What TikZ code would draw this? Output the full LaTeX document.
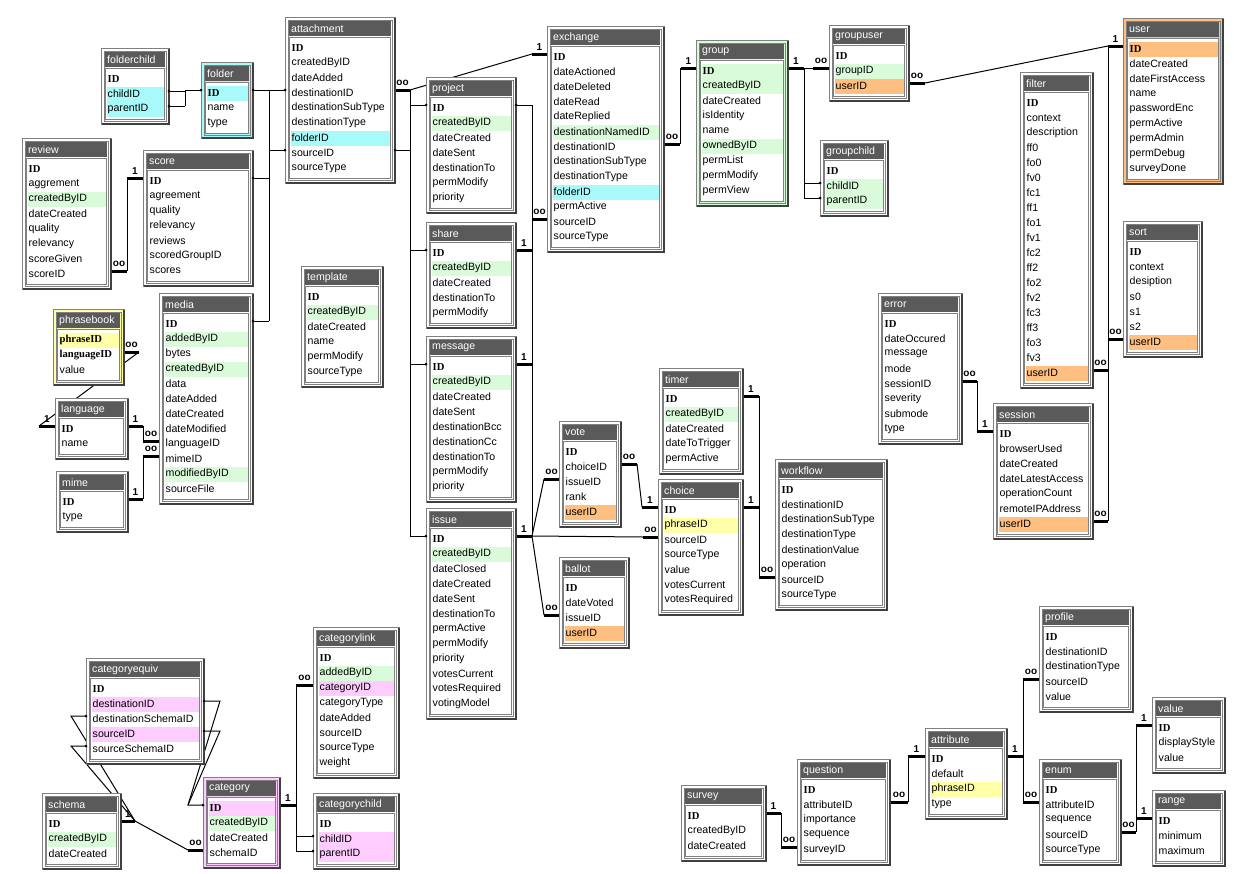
\documentclass[tikz,border=0pt]{standalone}
\usepackage{fontspec}
\setmainfont{Liberation Sans}
\newfontfamily\idfont{Liberation Serif}
\usetikzlibrary{backgrounds}
\definecolor{colw}{HTML}{FFFFFF}
\definecolor{colg}{HTML}{D9FBD9}
\definecolor{colc}{HTML}{A8FAFA}
\definecolor{colo}{HTML}{FFBF80}
\definecolor{coly}{HTML}{FFFFA8}
\definecolor{colp}{HTML}{FFCCFF}
\definecolor{titlegray}{HTML}{5A5A5A}
\definecolor{framegray}{HTML}{808080}
\definecolor{shadowgray}{HTML}{404040}
\tikzset{
 fldn/.style={anchor=west, inner sep=0pt, font=\fontsize{10.6}{12}\selectfont},
 fldb/.style={anchor=west, inner sep=0pt, font=\idfont\bfseries\fontsize{10.6}{12}\selectfont},
 ttl/.style={anchor=west, inner sep=0pt, text=white, font=\fontsize{10.6}{12}\selectfont},
 thinline/.style={line width=1pt, black},
 stubline/.style={line width=3pt, black},
 lbl/.style={anchor=south, inner sep=0pt, yshift=2.5pt, font=\bfseries\fontsize{10}{10}\selectfont},
 tblframe/.style={draw=framegray, line width=1pt, anchor=north west, inner sep=0pt, outer sep=0pt},
}
\newcommand{\ertable}[7]{%
 \pgfmathsetmacro\erH{31+15*#5}%
 \pgfmathsetmacro\erW{#4-#2}%
 \pgfmathsetmacro\erB{#3+\erH}%
 \node[tblframe, fill=#6, minimum width=\erW pt, minimum height=\erH pt] (#1) at (#2,#3) {};
 \draw[line width=1.5pt, shadowgray] (#2+1,\erB) -- (#4,\erB) -- (#4,#3+1);
 \draw[framegray, line width=0.8pt] (#2+3,#3+3) rectangle (#4-3,\erB-3);
 \fill[titlegray] (#2+4,#3+4) rectangle (#4-4,#3+19);
 \node[ttl] (#1-title) at (#2+6,#3+11.5) {#1};
 \draw[fill=white, draw=framegray, line width=0.8pt] (#2+4.5,#3+20.5) rectangle (#4-4.5,\erB-4.5);
 \foreach \erf/\erc/\erw [count=\eri from 0] in {#7} {
   \pgfmathsetmacro\yr{#3+23.5+15*\eri}
   \fill[col\erc] (#2+5.5,\yr) rectangle (#4-5.5,\yr+15);
   \node[fld\erw] (#1-r\eri) at (#2+6.5,\yr+7.5) {\erf};
   \coordinate (#1-\erf-L) at (#2,\yr+4.5);
   \coordinate (#1-\erf-R) at (#4,\yr+4.5);
 }
}
\newcommand{\erstub}[4]{\draw[stubline] (#1) -- node[lbl]{#3} ++(#2,0) coordinate (#4);}
\newcommand{\erdot}[1]{\fill (#1) circle (1.5pt);}
\begin{document}
\begin{tikzpicture}[x=1pt,y=-1pt]
\useasboundingbox (0,0) rectangle (1234,873);
\ertable{folderchild}{101}{48}{169}{3}{white}{ID/w/b, childID/c/n, parentID/c/n}
\ertable{folder}{201}{62}{253}{3}{colc}{ID/c/b, name/w/n, type/w/n}
\ertable{attachment}{285}{17}{395}{9}{white}{ID/w/b, createdByID/w/n, dateAdded/w/n, destinationID/w/n, destinationSubType/w/n, destinationType/w/n, folderID/c/n, sourceID/w/n, sourceType/w/n}
\ertable{review}{22}{138}{111}{8}{white}{ID/w/b, aggrement/w/n, createdByID/g/n, dateCreated/w/n, quality/w/n, relevancy/w/n, scoreGiven/w/n, scoreID/w/n}
\ertable{score}{143}{150}{253}{7}{white}{ID/w/b, agreement/w/n, quality/w/n, relevancy/w/n, reviews/w/n, scoredGroupID/w/n, scores/w/n}
\ertable{template}{301}{266}{383}{6}{white}{ID/w/b, createdByID/g/n, dateCreated/w/n, name/w/n, permModify/w/n, sourceType/w/n}
\ertable{media}{159}{293}{253}{12}{white}{ID/w/b, addedByID/g/n, bytes/w/n, createdByID/g/n, data/w/n, dateAdded/w/n, dateCreated/w/n, dateModified/w/n, languageID/w/n, mimeID/w/n, modifiedByID/g/n, sourceFile/w/n}
\ertable{phrasebook}{53}{309}{124}{3}{coly}{phraseID/y/b, languageID/w/b, value/w/n}
\ertable{language}{55}{398}{128}{2}{white}{ID/w/b, name/w/n}
\ertable{mime}{56}{471}{128}{2}{white}{ID/w/b, type/w/n}
\ertable{project}{426}{77}{516}{7}{white}{ID/w/b, createdByID/g/n, dateCreated/w/n, dateSent/w/n, destinationTo/w/n, permModify/w/n, priority/w/n}
\ertable{share}{426}{222}{516}{5}{white}{ID/w/b, createdByID/g/n, dateCreated/w/n, destinationTo/w/n, permModify/w/n}
\ertable{message}{426}{336}{516}{9}{white}{ID/w/b, createdByID/g/n, dateCreated/w/n, dateSent/w/n, destinationBcc/w/n, destinationCc/w/n, destinationTo/w/n, permModify/w/n, priority/w/n}
\ertable{issue}{426}{508}{516}{12}{white}{ID/w/b, createdByID/g/n, dateClosed/w/n, dateCreated/w/n, dateSent/w/n, destinationTo/w/n, permActive/w/n, permModify/w/n, priority/w/n, votesCurrent/w/n, votesRequired/w/n, votingModel/w/n}
\ertable{exchange}{547}{26}{664}{13}{white}{ID/w/b, dateActioned/w/n, dateDeleted/w/n, dateRead/w/n, dateReplied/w/n, destinationNamedID/g/n, destinationID/w/n, destinationSubType/w/n, destinationType/w/n, folderID/c/n, permActive/w/n, sourceID/w/n, sourceType/w/n}
\ertable{group}{696}{40}{788}{9}{colg}{ID/g/b, createdByID/g/n, dateCreated/w/n, isIdentity/w/n, name/w/n, ownedByID/g/n, permList/w/n, permModify/w/n, permView/w/n}
\ertable{groupuser}{829}{25}{909}{3}{white}{ID/w/b, groupID/g/n, userID/o/n}
\ertable{groupchild}{820}{140}{888}{3}{white}{ID/w/b, childID/g/n, parentID/g/n}
\ertable{user}{1123}{18}{1223}{9}{colo}{ID/o/b, dateCreated/w/n, dateFirstAccess/w/n, name/w/n, passwordEnc/w/n, permActive/w/n, permAdmin/w/n, permDebug/w/n, surveyDone/w/n}
\ertable{filter}{1020}{72}{1093}{19}{white}{ID/w/b, context/w/n, description/w/n, ff0/w/n, fo0/w/n, fv0/w/n, fc1/w/n, ff1/w/n, fo1/w/n, fv1/w/n, fc2/w/n, ff2/w/n, fo2/w/n, fv2/w/n, fc3/w/n, ff3/w/n, fo3/w/n, fv3/w/n, userID/o/n}
\ertable{sort}{1123}{221}{1202}{7}{white}{ID/w/b, context/w/n, desiption/w/n, s0/w/n, s1/w/n, s2/w/n, userID/o/n}
\ertable{error}{878}{293}{962}{8}{white}{ID/w/b, dateOccured/w/n, message/w/n, mode/w/n, sessionID/w/n, severity/w/n, submode/w/n, type/w/n}
\ertable{session}{993}{403}{1093}{7}{white}{ID/w/b, browserUsed/w/n, dateCreated/w/n, dateLatestAccess/w/n, operationCount/w/n, remoteIPAddress/w/n, userID/o/n}
\ertable{vote}{559}{421}{621}{5}{white}{ID/w/b, choiceID/w/n, issueID/w/n, rank/w/n, userID/o/n}
\ertable{timer}{659}{368}{743}{5}{white}{ID/w/b, createdByID/g/n, dateCreated/w/n, dateToTrigger/w/n, permActive/w/n}
\ertable{choice}{658}{479}{743}{7}{white}{ID/w/b, phraseID/y/n, sourceID/w/n, sourceType/w/n, value/w/n, votesCurrent/w/n, votesRequired/w/n}
\ertable{workflow}{775}{459}{887}{8}{white}{ID/w/b, destinationID/w/n, destinationSubType/w/n, destinationType/w/n, destinationValue/w/n, operation/w/n, sourceID/w/n, sourceType/w/n}
\ertable{ballot}{559}{557}{629}{4}{white}{ID/w/b, dateVoted/w/n, issueID/w/n, userID/o/n}
\ertable{categoryequiv}{86}{658}{204}{5}{white}{ID/w/b, destinationID/p/n, destinationSchemaID/w/n, sourceID/p/n, sourceSchemaID/w/n}
\ertable{categorylink}{313}{627}{399}{8}{white}{ID/w/b, addedByID/g/n, categoryID/p/n, categoryType/w/n, dateAdded/w/n, sourceID/w/n, sourceType/w/n, weight/w/n}
\ertable{category}{203}{777}{280}{4}{colp}{ID/p/b, createdByID/g/n, dateCreated/w/n, schemaID/w/n}
\ertable{schema}{42}{793}{121}{3}{white}{ID/w/b, createdByID/g/n, dateCreated/w/n}
\ertable{categorychild}{313}{793}{399}{3}{white}{ID/w/b, childID/p/n, parentID/p/n}
\ertable{survey}{681}{785}{766}{3}{white}{ID/w/b, createdByID/w/n, dateCreated/w/n}
\ertable{question}{797}{759}{890}{5}{white}{ID/w/b, attributeID/w/n, importance/w/n, sequence/w/n, surveyID/w/n}
\ertable{profile}{1039}{606}{1133}{5}{white}{ID/w/b, destinationID/w/n, destinationType/w/n, sourceID/w/n, value/w/n}
\ertable{value}{1152}{697}{1225}{3}{white}{ID/w/b, displayStyle/w/n, value/w/n}
\ertable{attribute}{925}{728}{1007}{4}{white}{ID/w/b, default/w/n, phraseID/y/n, type/w/n}
\ertable{enum}{1039}{759}{1121}{5}{white}{ID/w/b, attributeID/w/n, sequence/w/n, sourceID/w/n, sourceType/w/n}
\ertable{range}{1152}{790}{1225}{3}{white}{ID/w/b, minimum/w/n, maximum/w/n}
% dots
\foreach \d in {folderchild-childID-R, folderchild-parentID-R, folder-ID-L, folder-ID-R, attachment-destinationID-L, attachment-sourceID-L, score-ID-R, media-ID-R, attachment-sourceID-R, project-ID-L, share-ID-L, message-ID-L, issue-ID-L, project-ID-R, groupchild-childID-L, groupchild-parentID-L, categorychild-childID-L, categorychild-parentID-L, categoryequiv-destinationID-R, categoryequiv-sourceID-R, category-ID-L, categoryequiv-destinationSchemaID-L, categoryequiv-sourceSchemaID-L} {\erdot{\d}}
\begin{pgfonlayer}{background}
\fill[white] (0,0) rectangle (1234,873);
% folderchild -> folder
\coordinate (jA) at (185,0);
\draw[thinline] (folderchild-childID-R) -- (jA |- folderchild-childID-R);
\draw[thinline] (folderchild-parentID-R) -- (jA |- folderchild-parentID-R);
\draw[thinline] (jA |- folder-ID-L) -- (jA |- folderchild-parentID-R);
\draw[thinline] (jA |- folder-ID-L) -- (folder-ID-L);
% folder tree
\coordinate (jB) at (269,0);
\draw[thinline] (folder-ID-R) -- (attachment-destinationID-L);
\draw[thinline] (jB |- folder-ID-R) -- (jB |- media-ID-R);
\draw[thinline] (attachment-sourceID-L) -- (jB |- attachment-sourceID-L);
\draw[thinline] (score-ID-R) -- (jB |- score-ID-R);
\draw[thinline] (media-ID-R) -- (jB |- media-ID-R);
% attachment -> exchange
\erstub{attachment-destinationID-R}{15}{oo}{sC1}
\erstub{exchange-ID-L}{-15}{1}{sC2}
\draw[thinline] (sC1) -- (sC2);
% left bus of project/share/message/issue
\draw[thinline] (sC1) -- (sC1 |- issue-ID-L);
\draw[thinline] (attachment-sourceID-R) -- (sC1 |- attachment-sourceID-R);
\draw[thinline] (sC1 |- project-ID-L) -- (project-ID-L);
\draw[thinline] (sC1 |- share-ID-L) -- (share-ID-L);
\draw[thinline] (sC1 |- message-ID-L) -- (message-ID-L);
\draw[thinline] (sC1 |- issue-ID-L) -- (issue-ID-L);
% right bus to exchange.sourceID
\erstub{exchange-sourceID-L}{-15}{oo}{sE0}
\erstub{share-ID-R}{16}{1}{sE1}
\erstub{message-ID-R}{16}{1}{sE2}
\erstub{issue-ID-R}{16}{1}{sE3}
\draw[thinline] (project-ID-R) -- (sE0 |- project-ID-R);
\draw[thinline] (sE0 |- project-ID-R) -- (sE3);
% exchange -> group
\erstub{exchange-destinationID-R}{16}{oo}{sF1}
\erstub{group-ID-L}{-15}{1}{sF2}
\draw[thinline] (sF1) |- (sF2);
% group -> groupuser, groupchild
\erstub{group-ID-R}{16}{1}{sG1}
\erstub{groupuser-groupID-L}{-16}{oo}{sG2}
\draw[thinline] (sG1) -- (sG2);
\draw[thinline] (sG1) -- (sG1 |- groupchild-parentID-L);
\draw[thinline] (sG1 |- groupchild-childID-L) -- (groupchild-childID-L);
\draw[thinline] (sG1 |- groupchild-parentID-L) -- (groupchild-parentID-L);
% user
\erstub{groupuser-userID-R}{16}{oo}{sH1}
\erstub{user-ID-L}{-15}{1}{sH2}
\draw[thinline] (sH1) -- (sH2);
\erstub{filter-userID-R}{15}{oo}{sH3}
\erstub{sort-userID-L}{-15}{oo}{sH4}
\erstub{session-userID-R}{15}{oo}{sH5}
\draw[thinline] (sH2) -- (sH5);
% error -> session
\erstub{error-sessionID-R}{15}{oo}{sI1}
\erstub{session-ID-L}{-16}{1}{sI2}
\draw[thinline] (sI1) -- (sI2);
% review -> score
\erstub{review-scoreID-R}{16}{oo}{sJ1}
\erstub{score-ID-L}{-16}{1}{sJ2}
\draw[thinline] (sJ1) -- (sJ2);
% language, mime -> media
\erstub{language-ID-R}{15}{1}{sK1}
\erstub{media-languageID-L}{-16}{oo}{sK2}
\draw[thinline] (sK1) -- (sK2);
\erstub{mime-ID-R}{15}{1}{sK3}
\erstub{media-mimeID-L}{-16}{oo}{sK4}
\draw[thinline] (sK3) -- (sK4);
% phrasebook -> language
\erstub{phrasebook-languageID-R}{15}{oo}{sL1}
\erstub{language-ID-L}{-16}{1}{sL2}
\draw[thinline] (sL1) -- (sL2);
% category -> categorylink, categorychild
\erstub{category-ID-R}{16}{1}{sM1}
\erstub{categorylink-categoryID-L}{-17}{oo}{sM2}
\draw[thinline] (sM2) -- (sM1 |- categorychild-parentID-L);
\draw[thinline] (sM1 |- categorychild-childID-L) -- (categorychild-childID-L);
\draw[thinline] (sM1 |- categorychild-parentID-L) -- (categorychild-parentID-L);
% categoryequiv -> category
\coordinate (jN) at (220,0);
\coordinate (jN2) at ([xshift=-15pt]category-ID-L);
\draw[thinline] (categoryequiv-destinationID-R) -- (jN |- categoryequiv-destinationID-R) -- (jN2) -- (category-ID-L);
\draw[thinline] (categoryequiv-sourceID-R) -- (jN |- categoryequiv-sourceID-R) -- (jN2);
% schema
\erstub{schema-ID-R}{14}{1}{sO1}
\erstub{category-schemaID-L}{-15}{oo}{sO2}
\draw[thinline] (sO1) -- (sO2);
\coordinate (jO) at (71,0);
\draw[thinline] (categoryequiv-destinationSchemaID-L) -- (jO |- categoryequiv-destinationSchemaID-L) -- (sO1);
\draw[thinline] (categoryequiv-sourceSchemaID-L) -- (jO |- categoryequiv-sourceSchemaID-L) -- (sO1);
% issue -> vote, ballot, choice
\erstub{vote-issueID-L}{-15}{oo}{sP1}
\erstub{ballot-issueID-L}{-15}{oo}{sP2}
\erstub{choice-sourceID-L}{-15}{oo}{sP3}
\draw[thinline] (sE3) -- (sP1);
\draw[thinline] (sE3) -- (sP2);
\draw[thinline] (sE3) -- (sP3);
% vote -> choice
\erstub{vote-choiceID-R}{16}{oo}{sQ1}
\erstub{choice-ID-L}{-16}{1}{sQ2}
\draw[thinline] (sQ1) -- (sQ2);
% timer, choice -> workflow
\erstub{timer-ID-R}{16}{1}{sR1}
\erstub{choice-ID-R}{16}{1}{sR2}
\erstub{workflow-sourceID-L}{-16}{oo}{sR3}
\draw[thinline] (sR1) -- (sR3);
% survey -> question
\erstub{survey-ID-R}{15}{1}{sS1}
\erstub{question-surveyID-L}{-16}{oo}{sS2}
\draw[thinline] (sS1) -- (sS2);
% question -> attribute
\erstub{question-attributeID-R}{18}{oo}{sT1}
\erstub{attribute-ID-L}{-17}{1}{sT2}
\draw[thinline] (sT1) -- (sT2);
% attribute -> profile, enum
\erstub{attribute-ID-R}{16}{1}{sU1}
\erstub{profile-sourceID-L}{-16}{oo}{sU2}
\erstub{enum-attributeID-L}{-16}{oo}{sU3}
\draw[thinline] (sU2) -- (sU3);
% enum -> value, range
\erstub{enum-sourceID-R}{15}{oo}{sV1}
\erstub{value-ID-L}{-16}{1}{sV2}
\erstub{range-ID-L}{-16}{1}{sV3}
\draw[thinline] (sV2) -- (sV1);
\end{pgfonlayer}
\end{tikzpicture}
\end{document}
